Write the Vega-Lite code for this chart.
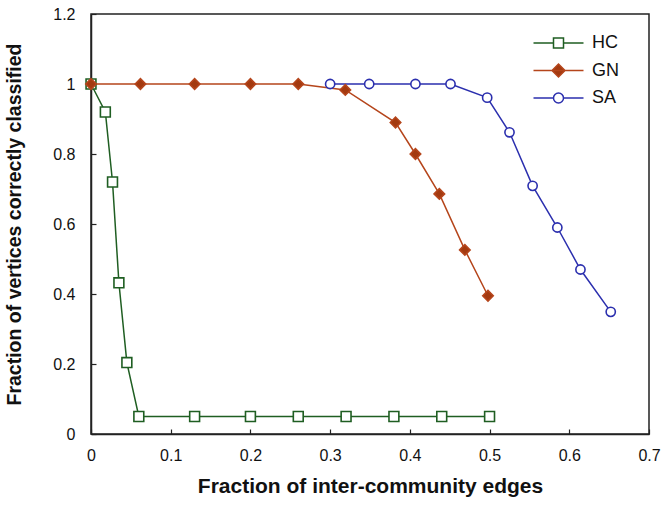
{
  "$schema": "https://vega.github.io/schema/vega-lite/v6.json",
  "autosize": {"type": "none"},
  "width": 558,
  "height": 420,
  "padding": {"left": 91, "top": 14, "right": 13, "bottom": 72},
  "background": "white",
  "config": {
    "view": {"stroke": "#222", "strokeWidth": 1.5},
    "font": "Liberation Sans",
    "axis": {
      "grid": false,
      "domainColor": "#222",
      "domainWidth": 1.5,
      "tickColor": "#222",
      "tickWidth": 1.2,
      "tickSize": -5,
      "labelFont": "Liberation Sans",
      "labelFontSize": 16,
      "labelColor": "#111",
      "titleFont": "Liberation Sans",
      "titleFontWeight": "bold",
      "titleColor": "#111"
    },
    "legend": {
      "labelFont": "Liberation Sans",
      "labelFontSize": 18,
      "labelColor": "#111",
      "padding": 0,
      "title": null,
      "orient": "none",
      "legendX": 458.5,
      "legendY": 20,
      "labelOffset": 24.5,
      "rowPadding": 8.5,
      "symbolSize": 100,
      "symbolStrokeWidth": 1.5,
      "symbolOpacity": 1
    }
  },
  "resolve": {
    "scale": {"shape": "independent", "size": "independent"},
    "legend": {"color": "independent", "fill": "independent", "shape": "independent", "size": "independent"}
  },
  "data": {
    "values": [
      {"s": "HC", "x": 0, "y": 1},
      {"s": "HC", "x": 0.018, "y": 0.92},
      {"s": "HC", "x": 0.027, "y": 0.72},
      {"s": "HC", "x": 0.035, "y": 0.432},
      {"s": "HC", "x": 0.045, "y": 0.204},
      {"s": "HC", "x": 0.06, "y": 0.05},
      {"s": "HC", "x": 0.13, "y": 0.05},
      {"s": "HC", "x": 0.2, "y": 0.05},
      {"s": "HC", "x": 0.26, "y": 0.05},
      {"s": "HC", "x": 0.32, "y": 0.05},
      {"s": "HC", "x": 0.38, "y": 0.05},
      {"s": "HC", "x": 0.44, "y": 0.05},
      {"s": "HC", "x": 0.5, "y": 0.05},
      {"s": "SA", "x": 0.3, "y": 1},
      {"s": "SA", "x": 0.349, "y": 1},
      {"s": "SA", "x": 0.407, "y": 1},
      {"s": "SA", "x": 0.451, "y": 1},
      {"s": "SA", "x": 0.497, "y": 0.961},
      {"s": "SA", "x": 0.525, "y": 0.862},
      {"s": "SA", "x": 0.554, "y": 0.709},
      {"s": "SA", "x": 0.585, "y": 0.59},
      {"s": "SA", "x": 0.614, "y": 0.47},
      {"s": "SA", "x": 0.652, "y": 0.349},
      {"s": "GN", "x": 0, "y": 1},
      {"s": "GN", "x": 0.062, "y": 1},
      {"s": "GN", "x": 0.13, "y": 1},
      {"s": "GN", "x": 0.2, "y": 1},
      {"s": "GN", "x": 0.26, "y": 1},
      {"s": "GN", "x": 0.319, "y": 0.983},
      {"s": "GN", "x": 0.382, "y": 0.89},
      {"s": "GN", "x": 0.407, "y": 0.8},
      {"s": "GN", "x": 0.437, "y": 0.686},
      {"s": "GN", "x": 0.469, "y": 0.526},
      {"s": "GN", "x": 0.498, "y": 0.395}
    ]
  },
  "encoding": {
    "x": {
      "field": "x", "type": "quantitative",
      "scale": {"domain": [0, 0.7], "nice": false, "zero": false},
      "axis": {"values": [0, 0.1, 0.2, 0.3, 0.4, 0.5, 0.6, 0.7], "format": "~g", "labelPadding": 18, "titlePadding": 12, "titleFontSize": 21, "labelFlush": false},
      "title": "Fraction of inter-community edges"
    },
    "y": {
      "field": "y", "type": "quantitative",
      "scale": {"domain": [0, 1.2], "nice": false},
      "axis": {"values": [0, 0.2, 0.4, 0.6, 0.8, 1, 1.2], "format": "~g", "labelPadding": 21, "titlePadding": 28, "titleFontSize": 19.5, "labelFlush": false},
      "title": "Fraction of vertices correctly classified"
    }
  },
  "layer": [
    {
      "mark": {"type": "line", "strokeWidth": 1.5},
      "encoding": {
        "color": {
          "field": "s", "type": "nominal",
          "scale": {"domain": ["HC", "GN", "SA"], "range": ["#1f5e22", "#b5451b", "#2b2fae"]},
          "legend": null
        },
        "detail": {"field": "s"}
      }
    },
    {
      "mark": {"type": "point", "strokeWidth": 1.6, "opacity": 1},
      "encoding": {
        "color": {
          "field": "s", "type": "nominal",
          "scale": {"domain": ["HC", "GN", "SA"], "range": ["#1f5e22", "#b5451b", "#2b2fae"]},
          "legend": null
        },
        "fill": {
          "field": "s", "type": "nominal",
          "scale": {"domain": ["HC", "GN", "SA"], "range": ["#ffffff", "#a33a10", "#ffffff"]},
          "legend": null
        },
        "shape": {
          "field": "s", "type": "nominal",
          "scale": {"domain": ["HC", "GN", "SA"], "range": ["square", "diamond", "circle"]},
          "legend": null
        },
        "size": {
          "field": "s", "type": "nominal",
          "scale": {"domain": ["SA", "HC", "GN"], "range": [85, 110, 150]},
          "legend": null
        }
      }
    },
    {
      "mark": {"type": "point", "strokeWidth": 1.5, "opacity": 0},
      "encoding": {
        "color": {
          "field": "s", "type": "nominal",
          "scale": {"domain": ["HC", "GN", "SA"], "range": ["#1f5e22", "#b5451b", "#2b2fae"]},
          "legend": {}
        },
        "fill": {
          "field": "s", "type": "nominal",
          "scale": {"domain": ["HC", "GN", "SA"], "range": ["#ffffff", "#a33a10", "#ffffff"]},
          "legend": {}
        },
        "shape": {
          "field": "s", "type": "nominal",
          "scale": {"domain": ["HC", "GN", "SA"], "range": ["M-5,0H-1M1,0H5M-1,-1H1V1H-1Z", "M-5,0H5M-1.3,0L0,-1.3L1.3,0L0,1.3Z", "M-5,0H-1M1,0H5M-1,0A1,1 0 1,0 1,0A1,1 0 1,0 -1,0Z"]},
          "legend": {}
        },
        "size": {"value": 100}
      }
    }
  ]
}
